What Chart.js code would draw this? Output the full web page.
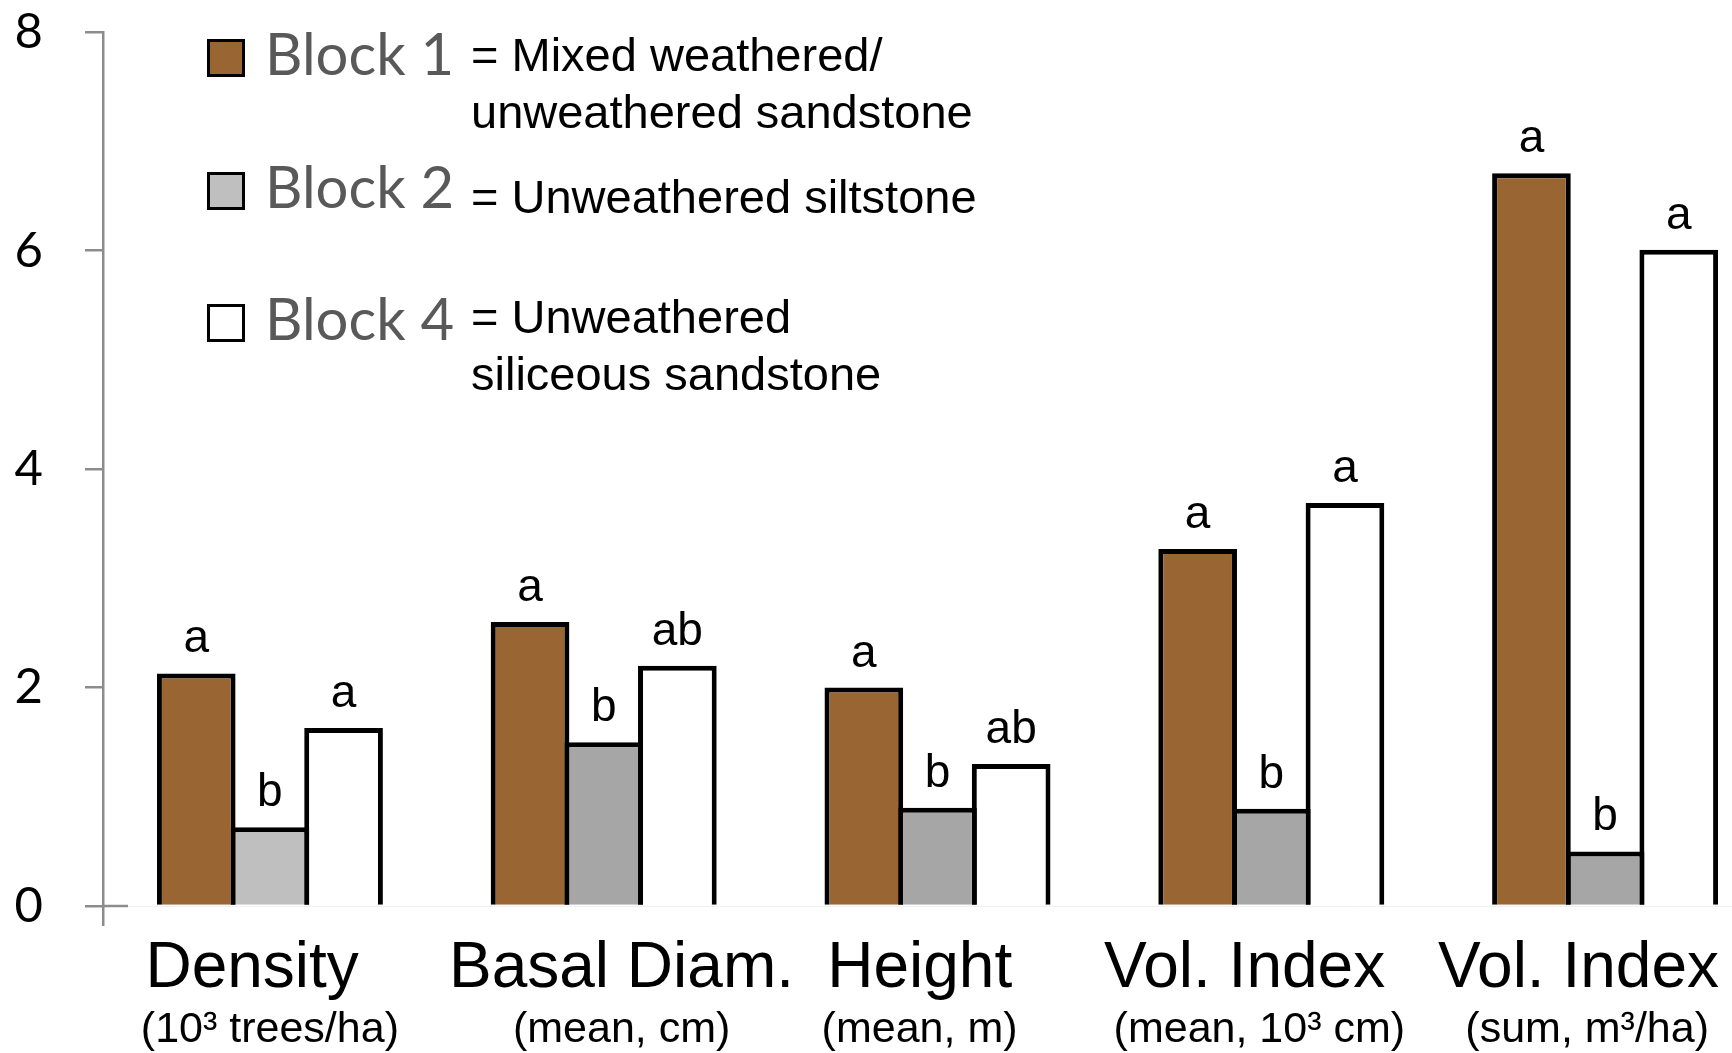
<!DOCTYPE html>
<html>
<head>
<meta charset="utf-8">
<script src="https://cdn.jsdelivr.net/npm/chart.js@4.4.1/dist/chart.umd.min.js"></script>
<style>
    html, body { margin:0; padding:0; background:#fff; overflow:hidden; }
    #wrap { position:relative; width:1772px; height:1053px; }
    #legend { position:absolute; left:0; top:0; }
    .sq { position:absolute; left:207px; width:38px; height:38px; box-sizing:border-box; border:3px solid #000; }
    .blk { position:absolute; left:265px; font-family:Lato, "Open Sans", sans-serif; font-size:58px; line-height:58px; color:#595959; white-space:nowrap; }
    .desc { position:absolute; left:471px; font-family:"Liberation Sans", Arial, sans-serif; font-size:47px; line-height:57px; color:#000; white-space:nowrap; }
</style>
</head>
<body>
<div id="wrap">
    <canvas id="chart"></canvas>
    <div id="legend"></div>
</div>
<script>
const categories = ['Density', 'Basal Diam.', 'Height', 'Vol. Index', 'Vol. Index'];
const units = ['(10³ trees/ha)', '(mean, cm)', '(mean, m)', '(mean, 10³ cm)', '(sum, m³/ha)'];

const seriesNames = ['Block 1', 'Block 2', 'Block 4'];
const seriesDesc = [
    ['= Mixed weathered/', 'unweathered sandstone'],
    ['= Unweathered siltstone'],
    ['= Unweathered', 'siliceous sandstone']
];

const block1 = [2.13, 2.6, 2.0, 3.27, 6.71];
const block2 = [0.72, 1.5, 0.9, 0.89, 0.5];
const block4 = [1.63, 2.2, 1.3, 3.69, 6.01];

// significance letters over each bar
const letters1 = ['a', 'a', 'a', 'a', 'a'];
const letters2 = ['b', 'b', 'b', 'b', 'b'];
const letters4 = ['a', 'ab', 'ab', 'a', 'a'];

const yTicks = [0, 2, 4, 6, 8];

const brown = '#996633';
const grayLight = '#bfbfbf';
const grayDark = '#a6a6a6';
const axisGray = '#8c8c8c';

// the labels in the original sit a little off the group centres:
// nudge them with padding spaces (negative = move left)
const nameNudge = [-2, 2, -2, -3, -3];
const unitNudge = [0, 3, -3, -2, -3];
function nudge(txt, n) {
    const pad = ' '.repeat(Math.abs(n));
    return n < 0 ? txt + pad : pad + txt;
}

// legend (html, real text)
const legendSquareTops = [39, 172, 304];
const legendNameTops = [24, 157, 289];
const legendDescTops = [26, 168, 288];
const legendFills = [brown, grayLight, '#ffffff'];
const $legend = document.getElementById('legend');
seriesNames.forEach((name, i) => {
    $legend.insertAdjacentHTML('beforeend', `
        <div class="sq" style="top:${legendSquareTops[i]}px;background:${legendFills[i]};"></div>
        <div class="blk" style="top:${legendNameTops[i]}px;">${name}</div>
        <div class="desc" style="top:${legendDescTops[i]}px;">${seriesDesc[i].join('<br>')}</div>
    `);
});

const letterPlugin = {
    id: 'letters',
    afterDatasetsDraw(chart) {
        const ctx = chart.ctx;
        const sets = [letters1, letters2, letters4];
        ctx.save();
        ctx.font = '46px "Liberation Sans", Arial, sans-serif';
        ctx.fillStyle = '#000';
        ctx.textAlign = 'center';
        ctx.textBaseline = 'alphabetic';
        sets.forEach((lets, i) => {
            chart.getDatasetMeta(i).data.forEach((bar, j) => {
                ctx.fillText(lets[j], bar.x, bar.y - 21);
            });
        });
        ctx.restore();
    }
};

// little stub of the y axis zero tick reaching into the plot
const stubPlugin = {
    id: 'stub',
    afterDraw(chart) {
        const ctx = chart.ctx;
        const y0 = chart.scales.y.getPixelForValue(0);
        ctx.save();
        ctx.strokeStyle = axisGray;
        ctx.lineWidth = 2.5;
        ctx.beginPath();
        ctx.moveTo(chart.chartArea.left, y0);
        ctx.lineTo(chart.chartArea.left + 25, y0);
        ctx.stroke();
        ctx.restore();
    }
};

// bars overlap a little so neighbouring outlines merge into one line
const barStyle = { borderColor: '#000', borderWidth: 5, borderSkipped: 'start' };

function flatSides(s) {
    s.paddingLeft = 0;
    s.paddingRight = 0;
}

new Chart(document.getElementById('chart'), {
    type: 'bar',
    data: {
        labels: categories.map((c, i) => nudge(c, nameNudge[i])),
        datasets: [
            { label: seriesNames[0], data: block1, backgroundColor: brown, ...barStyle },
            { label: seriesNames[1], data: block2, backgroundColor: [grayLight, grayDark, grayDark, grayDark, grayDark], ...barStyle },
            { label: seriesNames[2], data: block4, backgroundColor: '#ffffff', ...barStyle }
        ]
    },
    options: {
        responsive: true,
        maintainAspectRatio: false,
        animation: false,
        categoryPercentage: 0.662,
        barPercentage: 1.068,
        layout: { padding: 0 },
        plugins: {
            legend: { display: false },
            tooltip: { enabled: false }
        },
        scales: {
            y: {
                min: 0,
                max: 8,
                afterBuildTicks: s => { s.ticks = yTicks.map(v => ({ value: v })); },
                afterFit: s => { s.width = 103; s.paddingTop = 32.3; },
                ticks: {
                    padding: 42,
                    color: '#000',
                    font: { family: 'Lato, "Open Sans", sans-serif', size: 49 }
                },
                grid: { drawOnChartArea: false, drawTicks: true, tickLength: 18, color: axisGray, lineWidth: 2.5 },
                border: { display: true, color: axisGray, width: 2.5 }
            },
            x: {
                weight: 0,
                afterFit: s => { s.height = 96; flatSides(s); },
                ticks: {
                    padding: 5,
                    color: '#000',
                    maxRotation: 0,
                    autoSkip: false,
                    font: { family: '"Liberation Sans", Arial, sans-serif', size: 64 }
                },
                grid: {
                    drawOnChartArea: false,
                    drawTicks: true,
                    tickLength: 20,
                    lineWidth: 2.5,
                    color: c => c.index === 0 ? axisGray : 'rgba(0,0,0,0)'
                },
                border: { display: true, color: '#f0f0f0', width: 1 }
            },
            x2: {
                type: 'category',
                position: 'bottom',
                weight: 1,
                labels: units.map((u, i) => nudge(u, unitNudge[i])),
                offset: true,
                afterFit: s => { s.height = 51; flatSides(s); },
                ticks: {
                    padding: 2,
                    color: '#000',
                    maxRotation: 0,
                    autoSkip: false,
                    font: { family: '"Liberation Sans", Arial, sans-serif', size: 43 }
                },
                grid: { display: false, drawTicks: false },
                border: { display: false }
            }
        }
    },
    plugins: [letterPlugin, stubPlugin]
});
</script>
</body>
</html>
